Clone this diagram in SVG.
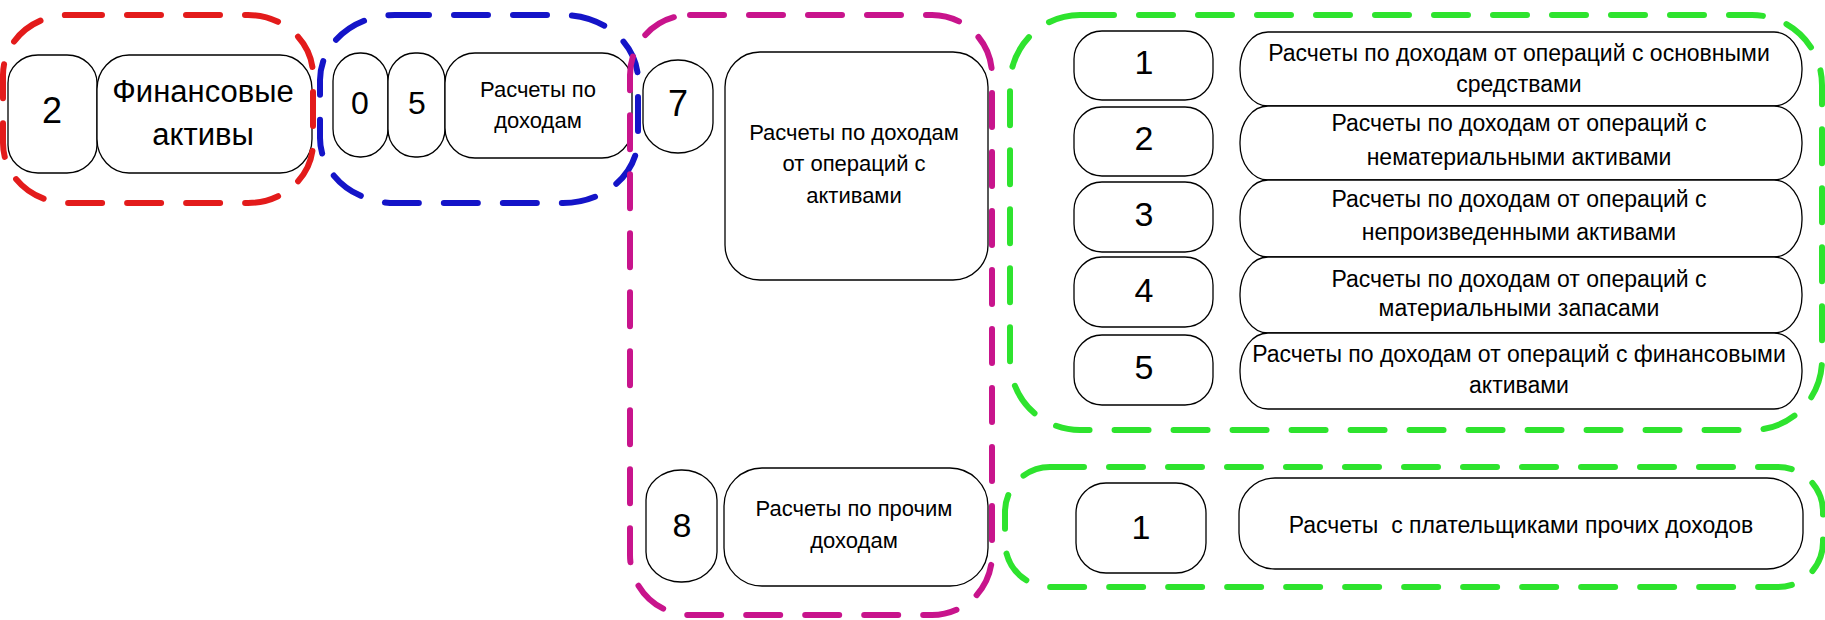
<svg xmlns="http://www.w3.org/2000/svg" width="1825" height="620" viewBox="0 0 1825 620">
<style>
.bg{fill:#ffffff}
.box{fill:#ffffff;stroke:#000000;stroke-width:1.3}
.grp{fill:none;stroke-width:6;stroke-dasharray:34 25;stroke-linecap:round}
.red{stroke:#e31b1b}
.blue{stroke:#1414c8}
.mag{stroke:#c8148c}
.green{stroke:#2ee32e}
.num{font-family:"Liberation Sans",Arial,sans-serif;fill:#000;text-anchor:middle}
.lbl{font-family:"Liberation Sans",Arial,sans-serif;fill:#000;text-anchor:middle;font-size:22px}
.lblg{font-family:"Liberation Sans",Arial,sans-serif;fill:#000;text-anchor:middle;font-size:23px}
</style>
<rect class="bg" x="0" y="0" width="1825" height="620"/>

<g id="node-red-2">
<rect class="box" x="8" y="55" width="89" height="118" rx="30" ry="28"/>
<text class="num" x="52" y="123" font-size="36">2</text>
</g>
<g id="node-red-fin">
<rect class="box" x="97" y="55" width="215" height="118" rx="32" ry="34"/>
<text class="num" x="203" y="102" font-size="31">Финансовые</text>
<text class="num" x="203" y="145" font-size="31">активы</text>
</g>

<g id="node-blue-0">
<rect class="box" x="333" y="53" width="55" height="104" rx="27" ry="28"/>
<text class="num" x="360" y="114" font-size="32">0</text>
</g>
<g id="node-blue-5">
<rect class="box" x="388" y="53" width="57" height="104" rx="27" ry="28"/>
<text class="num" x="417" y="114" font-size="32">5</text>
</g>
<g id="node-blue-income">
<rect class="box" x="445" y="53" width="187" height="105" rx="30" ry="30"/>
<text class="lbl" x="538" y="97">Расчеты по</text>
<text class="lbl" x="538" y="128">доходам</text>
</g>

<g id="node-mag-7">
<rect class="box" x="643" y="60" width="70" height="93" rx="35" ry="30"/>
<text class="num" x="678" y="116" font-size="36">7</text>
</g>
<g id="node-mag-assets">
<rect class="box" x="725" y="52" width="263" height="228" rx="35" ry="35"/>
<text class="lbl" x="854" y="140">Расчеты по доходам</text>
<text class="lbl" x="854" y="171">от операций с</text>
<text class="lbl" x="854" y="203">активами</text>
</g>
<g id="node-mag-8">
<rect class="box" x="646" y="470" width="71" height="112" rx="35" ry="30"/>
<text class="num" x="682" y="537" font-size="34">8</text>
</g>
<g id="node-mag-other">
<rect class="box" x="724" y="468" width="264" height="118" rx="38" ry="38"/>
<text class="lbl" x="854" y="516">Расчеты по прочим</text>
<text class="lbl" x="854" y="548">доходам</text>
</g>

<g id="node-g1-1">
<rect class="box" x="1074" y="31" width="139" height="69" rx="28" ry="28"/>
<text class="num" x="1144" y="74" font-size="34">1</text>
</g>
<g id="node-g1-2">
<rect class="box" x="1074" y="107" width="139" height="69" rx="28" ry="28"/>
<text class="num" x="1144" y="150" font-size="34">2</text>
</g>
<g id="node-g1-3">
<rect class="box" x="1074" y="182" width="139" height="70" rx="28" ry="28"/>
<text class="num" x="1144" y="226" font-size="34">3</text>
</g>
<g id="node-g1-4">
<rect class="box" x="1074" y="257" width="139" height="70" rx="28" ry="28"/>
<text class="num" x="1144" y="302" font-size="34">4</text>
</g>
<g id="node-g1-5">
<rect class="box" x="1074" y="335" width="139" height="70" rx="28" ry="28"/>
<text class="num" x="1144" y="379" font-size="34">5</text>
</g>

<g id="node-g1-t1">
<rect class="box" x="1240" y="32" width="562" height="74" rx="28" ry="36"/>
<text class="lblg" x="1519" y="61">Расчеты по доходам от операций с основными</text>
<text class="lblg" x="1519" y="92">средствами</text>
</g>
<g id="node-g1-t2">
<rect class="box" x="1240" y="106" width="562" height="74" rx="28" ry="36"/>
<text class="lblg" x="1519" y="131">Расчеты по доходам от операций с</text>
<text class="lblg" x="1519" y="165">нематериальными активами</text>
</g>
<g id="node-g1-t3">
<rect class="box" x="1240" y="180" width="562" height="77" rx="28" ry="37"/>
<text class="lblg" x="1519" y="207">Расчеты по доходам от операций с</text>
<text class="lblg" x="1519" y="240">непроизведенными активами</text>
</g>
<g id="node-g1-t4">
<rect class="box" x="1240" y="257" width="562" height="76" rx="28" ry="37"/>
<text class="lblg" x="1519" y="287">Расчеты по доходам от операций с</text>
<text class="lblg" x="1519" y="316">материальными запасами</text>
</g>
<g id="node-g1-t5">
<rect class="box" x="1240" y="333" width="562" height="76" rx="28" ry="37"/>
<text class="lblg" x="1519" y="362">Расчеты по доходам от операций с финансовыми</text>
<text class="lblg" x="1519" y="393">активами</text>
</g>

<g id="node-g2-1">
<rect class="box" x="1076" y="483" width="130" height="90" rx="30" ry="30"/>
<text class="num" x="1141" y="539" font-size="34">1</text>
</g>
<g id="node-g2-t1">
<rect class="box" x="1239" y="478" width="564" height="91" rx="36" ry="36"/>
<text class="lblg" x="1521" y="533" xml:space="preserve">Расчеты  с плательщиками прочих доходов</text>
</g>

<g id="groups">
<rect id="group-red" class="grp red" x="3" y="15" width="310" height="188" rx="65" ry="60"/>
<rect id="group-blue" class="grp blue" x="320" y="15" width="318" height="188" rx="75" ry="65"/>
<rect id="group-magenta" class="grp mag" x="630" y="15" width="362" height="600" rx="60" ry="60"/>
<rect id="group-green-1" class="grp green" x="1010" y="15" width="812" height="415" rx="70" ry="70"/>
<rect id="group-green-2" class="grp green" x="1005" y="467" width="818" height="120" rx="45" ry="45"/>
</g>

<g id="connectors"></g>
</svg>
